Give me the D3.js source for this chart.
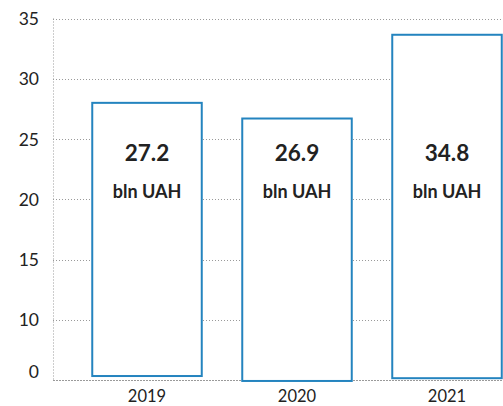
<!DOCTYPE html>
<html><head><meta charset="utf-8">
<script src="https://cdn.jsdelivr.net/npm/d3@7"></script>
<style>
html,body{margin:0;padding:0;background:#fff;}
svg{display:block;font-family:Lato,"Open Sans",sans-serif;}
</style></head>
<body>
<svg id="chart" width="503" height="406"></svg>
<script>
// ---- data ----
const years = ["2019", "2020", "2021"];
const barTops = [28.0, 26.7, 33.65];        // bar heights as drawn on the axis
const barBases = [5.33, 4.92, 5.15];        // bar bottoms as drawn
const valueLabels = ["27.2", "26.9", "34.8"];
const unitLabel = "bln UAH";
const tickValues = [5, 10, 15, 20, 25, 30, 35];
const tickLabels = ["0", "10", "15", "20", "25", "30", "35"];

const svg = d3.select("#chart");
const plotLeft = 53, plotRight = 503;

const y = d3.scaleLinear().domain([5, 35]).range([380, 18.5]);
const x = d3.scaleBand().domain(years).range([72, 522]).paddingInner(0.27).paddingOuter(0.135);

const gridColor = "#9a9a9a";

// gridlines
svg.append("g").selectAll("line").data(tickValues).join("line")
  .attr("x1", plotLeft).attr("x2", plotRight)
  .attr("y1", d => Math.round(y(d)) + 0.5).attr("y2", d => Math.round(y(d)) + 0.5)
  .attr("stroke", gridColor).attr("stroke-width", 1)
  .attr("stroke-dasharray", d => d === 5 ? "2,1" : "1,2");

// left vertical dotted axis
svg.append("line")
  .attr("x1", plotLeft + 0.5).attr("x2", plotLeft + 0.5)
  .attr("y1", y(35)).attr("y2", y(5))
  .attr("stroke", gridColor).attr("stroke-dasharray", "1,2");

// y tick labels via axis
const yAxis = d3.axisLeft(y).tickValues(tickValues)
  .tickFormat((d, i) => tickLabels[i]).tickSize(0).tickPadding(0);
const gy = svg.append("g").attr("transform", "translate(39,0)").call(yAxis);
gy.select(".domain").remove();
gy.selectAll("text")
  .attr("font-family", "Lato, sans-serif").attr("font-size", 17.5).attr("fill", "#222")
  .attr("dy", (d) => d === 5 ? "-0.12em" : "0.35em");

// bars
svg.append("g").selectAll("rect").data(years).join("rect")
  .attr("x", d => x(d))
  .attr("width", x.bandwidth())
  .attr("y", (d, i) => y(barTops[i]))
  .attr("height", (d, i) => y(barBases[i]) - y(barTops[i]))
  .attr("fill", "#fff")
  .attr("stroke", "#2484bf").attr("stroke-width", 2);

// value labels
const lbl = svg.append("g").selectAll("g").data(years).join("g")
  .attr("transform", d => `translate(${x(d) + x.bandwidth() / 2},0)`);
lbl.append("text").attr("y", 161).attr("text-anchor", "middle")
  .attr("font-size", 22.5).attr("font-weight", "bold").attr("fill", "#222")
  .text((d, i) => valueLabels[i]);
lbl.append("text").attr("y", 198).attr("text-anchor", "middle")
  .attr("font-size", 18).attr("font-weight", "bold").attr("fill", "#222")
  .text(unitLabel);

// x axis labels
const xAxis = d3.axisBottom(x).tickSize(0).tickPadding(0);
const gx = svg.append("g").attr("transform", "translate(0,390)").call(xAxis);
gx.select(".domain").remove();
gx.selectAll("text").attr("font-family", "Lato, sans-serif")
  .attr("font-size", 16.5).attr("fill", "#222").attr("dy", "0.71em");
</script>
</body></html>
